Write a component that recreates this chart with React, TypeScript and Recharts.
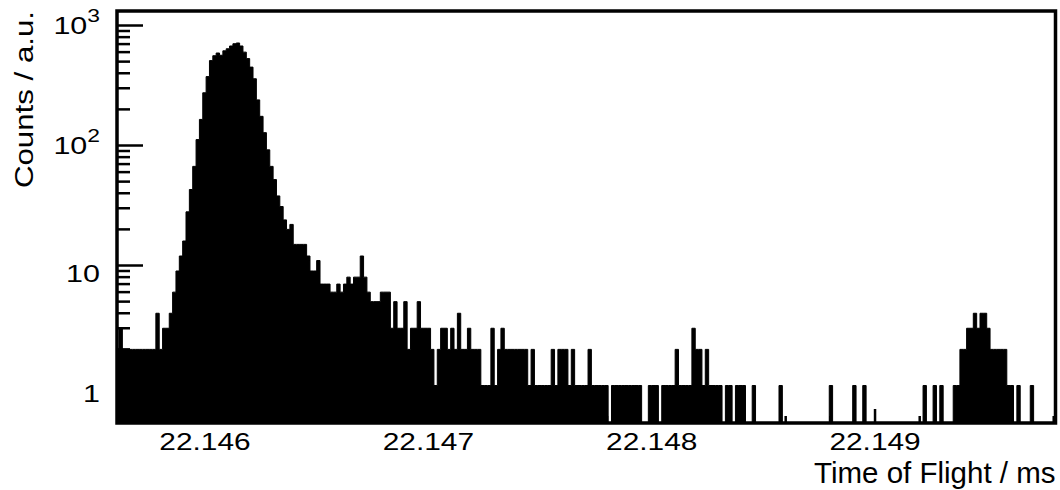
import React from 'react';
import { ComposedChart, Area, XAxis, YAxis, ReferenceArea, Label } from 'recharts';

// Histogram binning (ms)
const BIN_START = 22.1456;
const BIN_WIDTH = 0.000015;

// Counts per bin, left to right
const COUNTS: number[] = [
  2, 3, 2, 2, 2, 2, 2, 2, 2, 2, 2, 2, 4, 2, 3, 3, 4, 6, 9, 12,
  16, 28, 43, 67, 112, 165, 275, 375, 510, 560, 590, 565, 615, 640, 675, 705, 715, 675, 600, 530,
  450, 360, 240, 175, 128, 92, 67, 52, 38, 31, 24, 20, 22, 15, 15, 15, 15, 12, 9, 9,
  11, 7, 7, 7, 6, 6, 7, 6, 7, 8, 7, 8, 8, 12, 8, 6, 5, 5, 5, 6,
  6, 6, 3, 5, 3, 3, 5, 2, 3, 3, 5, 3, 3, 3, 2, 1, 2, 3, 3, 2,
  3, 2, 4, 2, 2, 3, 2, 2, 2, 1, 1, 1, 3, 1, 2, 3, 2, 2, 2, 2,
  2, 2, 2, 1, 2, 1, 1, 1, 1, 1, 2, 1, 2, 2, 2, 1, 2, 1, 1, 1,
  1, 2, 1, 1, 1, 1, 1, 0, 1, 1, 1, 1, 1, 1, 1, 1, 1, 0, 0, 1,
  1, 1, 0, 1, 1, 1, 1, 2, 1, 1, 1, 1, 3, 2, 2, 1, 2, 1, 1, 1,
  1, 0, 1, 1, 0, 1, 1, 1, 0, 0, 1, 0, 0, 0, 0, 0, 0, 0, 1, 0,
  0, 0, 0, 0, 0, 0, 0, 0, 0, 0, 0, 0, 0, 1, 0, 0, 0, 0, 0, 0,
  1, 0, 0, 1, 0, 0, 0, 0, 0, 0, 0, 0, 0, 0, 0, 0, 0, 0, 0, 0,
  0, 1, 0, 0, 1, 0, 1, 0, 0, 0, 1, 1, 2, 2, 3, 3, 4, 3, 4, 4,
  3, 2, 2, 2, 2, 2, 1, 1, 0, 1, 0, 0, 0, 1, 0, 0, 0, 0, 0, 0, 0,
];

// Axis ranges
const X_RANGE: [number, number] = [22.145606, 22.149808];
const Y_RANGE: [number, number] = [0.487, 1321];

// Axis ticks
const X_MAJOR = [22.146, 22.147, 22.148, 22.149];
const X_TICKS = [
  22.1458, 22.146, 22.1462, 22.1464, 22.1466, 22.1468, 22.147, 22.1472, 22.1474, 22.1476,
  22.1478, 22.148, 22.1482, 22.1484, 22.1486, 22.1488, 22.149, 22.1492, 22.1494, 22.1496,
  22.1498,
];
const Y_MAJOR = [1, 10, 100, 1000];
const Y_TICKS = [
  0.5, 0.6, 0.7, 0.8, 0.9, 1, 2, 3, 4, 5, 6, 7, 8, 9, 10, 20, 30, 40, 50, 60, 70, 80, 90,
  100, 200, 300, 400, 500, 600, 700, 800, 900, 1000,
];

const X_TITLE = 'Time of Flight / ms';
const Y_TITLE = 'Counts / a.u.';

const FONT = '"Liberation Sans", Arial, Helvetica, sans-serif';

// Empty bins are clipped to the bottom of the log frame
const rows = COUNTS.map((c, i) => ({ t: BIN_START + i * BIN_WIDTH, level: Math.max(c, Y_RANGE[0]) }));
rows.push({ t: BIN_START + COUNTS.length * BIN_WIDTH, level: rows[rows.length - 1].level });

const isMajor = (list: number[], v: number) => list.some((m) => Math.abs(m - v) < 1e-9);

const YTick = (props: any) => {
  const { x, y, payload } = props;
  const v = payload.value as number;
  const major = isMajor(Y_MAJOR, v);
  let label: React.ReactNode = null;
  if (major) {
    const exp = Math.round(Math.log10(v));
    if (exp >= 2) {
      label = (
        <text transform={`translate(${x - 17},${y + 8}) scale(1.27,1)`} textAnchor="end" fontFamily={FONT} fontSize={24} fill="#000">
          <tspan>10</tspan>
          <tspan dy={-12} fontSize={18}>{exp}</tspan>
        </text>
      );
    } else {
      label = (
        <text transform={`translate(${x - 17},${y + 16}) scale(1.27,1)`} textAnchor="end" fontFamily={FONT} fontSize={24} fill="#000">
          {String(v)}
        </text>
      );
    }
  }
  return (
    <g>
      <line x1={x} x2={x + (major ? 26 : 13)} y1={y} y2={y} stroke="#000" strokeWidth={2.5} />
      {label}
    </g>
  );
};

const XTick = (props: any) => {
  const { x, y, payload } = props;
  const v = payload.value as number;
  const major = isMajor(X_MAJOR, v);
  return (
    <g>
      <line x1={x} x2={x} y1={y} y2={y - (major ? 14 : 7)} stroke="#000" strokeWidth={2.5} />
      {major && (
        <text transform={`translate(${x},${y + 27}) scale(1.27,1)`} textAnchor="middle" fontFamily={FONT} fontSize={23.5} fill="#000">
          {v.toFixed(3)}
        </text>
      )}
    </g>
  );
};

const XTitle = (props: any) => {
  const vb = props.viewBox;
  return (
    <text x={vb.x + vb.width} y={vb.y + 60} textAnchor="end" fontFamily={FONT} fontSize={29.5} fill="#000">
      {X_TITLE}
    </text>
  );
};

const YTitle = (props: any) => {
  const vb = props.viewBox;
  return (
    <text transform={`translate(${vb.x + 33},${vb.y}) rotate(-90) scale(1.25,1)`} textAnchor="end" fontFamily={FONT} fontSize={25} fill="#000">
      {Y_TITLE}
    </text>
  );
};

export default function App() {
  return (
    <div style={{ position: 'absolute', left: 0, top: 0, width: 1060, height: 490, background: '#fff' }}>
      <ComposedChart width={1060} height={490} data={rows} margin={{ top: 11, right: 4.5, bottom: 0, left: 0 }}>
        <XAxis
          dataKey="t"
          type="number"
          domain={X_RANGE}
          allowDataOverflow
          ticks={X_TICKS}
          interval={0}
          tick={<XTick />}
          tickLine={false}
          axisLine={false}
          tickSize={0}
          tickMargin={0}
          height={67}
        >
          <Label content={<XTitle />} />
        </XAxis>
        <YAxis
          type="number"
          scale="log"
          domain={Y_RANGE}
          allowDataOverflow
          ticks={Y_TICKS}
          interval={0}
          tick={<YTick />}
          tickLine={false}
          axisLine={false}
          tickSize={0}
          tickMargin={0}
          width={117}
        >
          <Label content={<YTitle />} />
        </YAxis>
        <Area
          dataKey="level"
          type="stepAfter"
          baseValue={Y_RANGE[0]}
          stroke="#000"
          strokeWidth={1}
          fill="#000"
          fillOpacity={1}
          dot={false}
          activeDot={false}
          isAnimationActive={false}
        />
        <ReferenceArea
          x1={X_RANGE[0]}
          x2={X_RANGE[1]}
          y1={Y_RANGE[0]}
          y2={Y_RANGE[1]}
          fill="none"
          stroke="#000"
          strokeWidth={3.5}
          ifOverflow="visible"
        />
      </ComposedChart>
    </div>
  );
}
